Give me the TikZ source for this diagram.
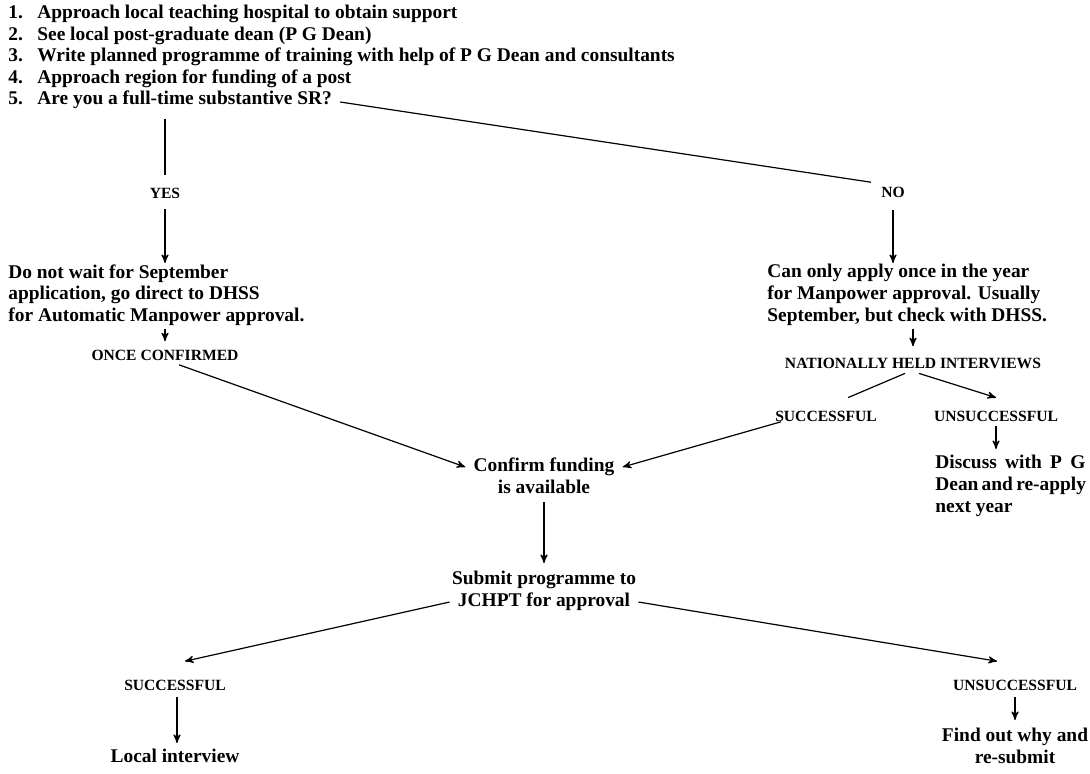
\documentclass[tikz,border=0pt]{standalone}
\usepackage{fontspec}
\setmainfont{Liberation Serif}
\usetikzlibrary{arrows,positioning}
\tikzset{
    %Define standard arrow tip
    >=stealth',
    %Define style for text lines
    steptext/.style={
	font=\fontsize{9.7}{10.8}\selectfont\bfseries,
	inner sep=0pt,
	text height=6.6pt,
	text depth=2pt
   },
   stepblock/.style={
	font=\fontsize{9.7}{10.8}\selectfont\bfseries,
	inner sep=0pt,
	align=left
   },
   caps/.style={
	font=\fontsize{7.8}{8}\selectfont\bfseries,
	inner sep=0pt,
	text height=5.4pt,
	text depth=0pt
   },
    % Define arrow style
    pil/.style={
           ->,
           line width=0.6pt},
    lin/.style={
           line width=0.6pt}
}
\newcommand{\itemno}[1]{\makebox[14.5pt][l]{#1}}
\newcommand{\spreadline}[1]{\makebox[75pt][s]{#1}}

\begin{document}
\begin{tikzpicture}[x=0.5pt,y=-0.5pt,node distance=2pt]
		\useasboundingbox (0,0) rectangle (1090,773);
		% question list
		\node[steptext,anchor=west](l1) at (8,14){\itemno{1.}Approach local teaching hospital to obtain support};
		\node[steptext,anchor=west](l2) at (8,36){\itemno{2.}See local post-graduate dean (P G Dean)};
		\node[steptext,anchor=west](l3) at (8,57){\itemno{3.}Write planned programme of training with help of P G Dean and consultants};
		\node[steptext,anchor=west](l4) at (8,79){\itemno{4.}Approach region for funding of a post};
		\node[steptext,anchor=west](l5) at (8,100){\itemno{5.}Are you a full-time substantive SR?};
		% yes / no
		\node[caps](yes) at (165,193){YES};
		\node[caps](no) at (893,192){NO};
		\node[stepblock,anchor=north west](dnw) at (8,264){Do not wait for September\\application, go direct to DHSS\\for Automatic Manpower approval.};
		\node[stepblock,anchor=north west](cao) at (767,264){Can only apply once in the year\\for Manpower approval. Usually\\September, but check with DHSS.};
		\node[caps](oc) at (165,355){ONCE CONFIRMED};
		\node[caps](nhi) at (913,363){NATIONALLY HELD INTERVIEWS};
		\node[caps](sn) at (826,416){SUCCESSFUL};
		\node[caps](un) at (996,416){UNSUCCESSFUL};
		\node[stepblock,anchor=north west](dis) at (935,455){\spreadline{Discuss with P G}\\\spreadline{Dean and re-apply}\\next year};
		% funding and JCHPT
		\node[steptext](cf) at (544,467){Confirm funding};
		\node[steptext,below=of cf](cf2){is available};
		\node[steptext](sub) at (544,580){Submit programme to};
		\node[steptext,below=of sub](sub2){JCHPT for approval};
		\node[caps](sl) at (175,685){SUCCESSFUL};
		\node[steptext](li) at (175,758){Local interview};
		\node[caps](su) at (1015,685){UNSUCCESSFUL};
		\node[steptext](fo) at (1015,737){Find out why and};
		\node[steptext,below=of fo](fo2){re-submit};
		% connectors
		\draw[lin] ([yshift=-5pt]yes.north |- l5.south) -- ([yshift=6pt]yes.north);
		\draw[pil] ([yshift=-5pt]yes.south) -- ([yshift=0.5pt]yes.south |- dnw.north);
		\draw[lin] ([xshift=4pt,yshift=-1pt]l5.east) -- ([xshift=-5pt,yshift=2pt]no.north west);
		\draw[pil] ([yshift=-6pt]no.south) -- ([yshift=0.5pt]no.south |- cao.north);
		\draw[pil] ([yshift=-1.5pt]oc.north |- dnw.south) -- ([yshift=4pt]oc.north);
		\draw[pil] ([yshift=-1.5pt]nhi.north |- cao.south) -- ([yshift=5.5pt]nhi.north);
		\draw[lin] ([xshift=-4pt,yshift=-2.3pt]nhi.south) -- ([xshift=11pt,yshift=6.3pt]sn.north);
		\draw[pil] ([xshift=3pt,yshift=-2.3pt]nhi.south) -- ([yshift=6.3pt]un.north);
		\draw[pil] ([yshift=-2pt]un.south) -- ([yshift=3pt]un.south |- dis.north);
		\draw[pil] ([xshift=7pt,yshift=-2pt]oc.south) -- ([xshift=-4pt]cf.west);
		\draw[pil] ([xshift=3pt]sn.south west) -- ([xshift=4pt]cf.east);
		\draw[pil] ([yshift=-2pt]cf2.south) -- ([yshift=4pt]sub.north);
		\draw[pil] ([xshift=-4pt]sub2.west) -- ([xshift=5pt,yshift=9pt]sl.north);
		\draw[pil] ([xshift=4pt]sub2.east) -- ([xshift=-9pt,yshift=9pt]su.north);
		\draw[pil] ([xshift=1pt,yshift=-3pt]sl.south) -- ([xshift=1pt,yshift=3pt]li.north);
		\draw[pil] ([yshift=-3pt]su.south) -- ([yshift=4pt]fo.north);
\end{tikzpicture}
\end{document}
